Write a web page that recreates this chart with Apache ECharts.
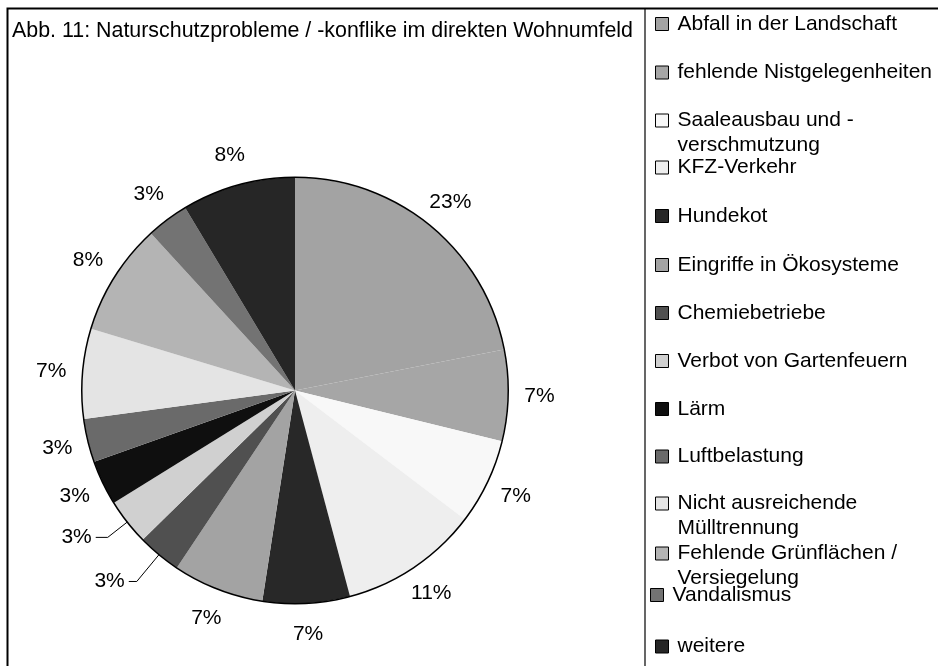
<!DOCTYPE html>
<html>
<head>
<meta charset="utf-8">
<script src="https://cdn.jsdelivr.net/npm/echarts@6/dist/echarts.min.js"></script>
<style>
  html, body { margin: 0; padding: 0; background: #fff; }
  #chart { width: 938px; height: 666px; }
</style>
</head>
<body>
<div id="chart"></div>
<script>
// Daten (Anteile)
const categories = [
  'Abfall in der Landschaft',
  'fehlende Nistgelegenheiten',
  'Saaleausbau und -\nverschmutzung',
  'KFZ-Verkehr',
  'Hundekot',
  'Eingriffe in Ökosysteme',
  'Chemiebetriebe',
  'Verbot von Gartenfeuern',
  'Lärm',
  'Luftbelastung',
  'Nicht ausreichende\nMülltrennung',
  'Fehlende Grünflächen /\nVersiegelung',
  'Vandalismus',
  'weitere'
];
const shares = [21.9, 6.9, 6.5, 10.5, 6.6, 6.9, 3.3, 3.5, 3.4, 3.3, 6.8, 8.5, 3.2, 8.6];
const percentLabels = ['23%', '7%', '7%', '11%', '7%', '7%', '3%', '3%', '3%', '3%', '7%', '8%', '3%', '8%'];

const colors = ['#a3a3a3', '#a6a6a6', '#f8f8f8', '#eeeeee', '#282828', '#a3a3a3', '#505050',
                '#d0d0d0', '#0f0f0f', '#6a6a6a', '#e4e4e4', '#b4b4b4', '#737373', '#262626'];

const FONT = "'Liberation Sans', Arial, Helvetica, sans-serif";
const CENTER = [295, 390.5];
const R = 213;

// Beschriftungen mit Führungslinie (Chemiebetriebe, Verbot von Gartenfeuern)
const leaderLines = { 6: [35, 8], 7: [25, 12] };

// Legende: Mittelpunkt der Symbole
const legendCenters = [24, 72.5, 120.5, 167.5, 216, 265, 313, 361, 409, 456.5, 503.5, 553.5, 595, 646.5];

const legends = categories.map((name, i) => {
  const lines = name.split('\n').length;
  return {
    data: [name],
    orient: 'vertical',
    left: i === 12 ? 650 : 655,
    top: legendCenters[i] - (lines === 1 ? 12.5 : 37.5),
    padding: 0,
    icon: 'rect',
    itemWidth: 13,
    itemHeight: 13,
    itemStyle: { borderColor: '#000', borderWidth: 1 },
    selectedMode: false,
    // bei zweizeiligen Einträgen steht das Symbol neben der ersten Zeile
    formatter: lines === 1 ? '{name}' : '\n{name}',
    textStyle: {
      fontFamily: FONT, fontSize: 21, color: '#000', lineHeight: 25,
      padding: [0, 0, 0, 4]
    }
  };
});

const chart = echarts.init(document.getElementById('chart'));
chart.setOption({
  animation: false,
  backgroundColor: '#fff',
  title: {
    text: 'Abb. 11: Naturschutzprobleme / -konflike im direkten Wohnumfeld',
    left: 12,
    top: 21,
    padding: 0,
    textStyle: { fontFamily: FONT, fontSize: 21.4, fontWeight: 'normal', color: '#000' }
  },
  legend: legends,
  graphic: [
    { type: 'rect', silent: true, shape: { x: 7.5, y: 8.5, width: 1000, height: 1000 },
      style: { fill: 'none', stroke: '#000', lineWidth: 2 } },
    { type: 'line', silent: true, shape: { x1: 645, y1: 8, x2: 645, y2: 666 },
      style: { stroke: '#000', lineWidth: 1.2 } }
  ],
  series: [
    {
      type: 'pie',
      center: CENTER,
      radius: R,
      startAngle: 90,
      clockwise: true,
      avoidLabelOverlap: false,
      silent: true,
      itemStyle: { borderWidth: 0 },
      label: { show: false },
      labelLine: { show: false },
      data: categories.map((name, i) => {
        const item = { name: name, value: shares[i], itemStyle: { color: colors[i] } };
        if (leaderLines[i]) {
          item.label = {
            show: true, position: 'outside', distanceToLabelLine: 4,
            formatter: percentLabels[i],
            fontFamily: FONT, fontSize: 21, color: '#000'
          };
          item.labelLine = {
            show: true, length: leaderLines[i][0], length2: leaderLines[i][1],
            smooth: false, lineStyle: { color: '#000', width: 1 }
          };
        }
        return item;
      })
    },
    {
      // Kreisrand
      type: 'pie',
      center: CENTER,
      radius: [R - 0.5, R + 1],
      silent: true,
      label: { show: false },
      labelLine: { show: false },
      itemStyle: { color: '#000', borderWidth: 0 },
      data: [{ name: 'Rand', value: 1 }]
    },
    {
      // Prozentangaben um den Kreis
      type: 'pie',
      center: CENTER,
      radius: [R, 270],
      startAngle: 90,
      clockwise: true,
      silent: true,
      itemStyle: { color: 'rgba(0,0,0,0)', borderWidth: 0 },
      label: {
        show: true, position: 'inside',
        formatter: p => percentLabels[p.dataIndex],
        fontFamily: FONT, fontSize: 21, color: '#000'
      },
      labelLine: { show: false },
      data: categories.map((name, i) => ({
        name: name, value: shares[i],
        label: { show: !leaderLines[i] }
      }))
    }
  ]
});
</script>
</body>
</html>
